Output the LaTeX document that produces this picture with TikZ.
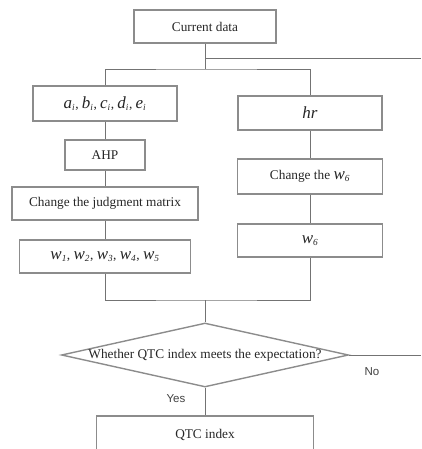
\documentclass[tikz,border=0pt]{standalone}
\usepackage{fontspec}
\setmainfont{Liberation Serif}
\setsansfont{Liberation Sans}
\usetikzlibrary{shapes.geometric}
\newcommand{\vr}[1]{{\fontsize{17}{20}\selectfont\itshape #1}}
\newcommand{\vs}[2]{\vr{#1}\textsubscript{\itshape #2}}
\begin{document}
\begin{tikzpicture}[x=1pt,y=-1pt,
  box/.style={draw=black!45,line width=1.4pt,inner sep=0pt,align=center,text=black!85,font=\fontsize{13.3}{16}\selectfont},
  decision/.style={diamond,draw=black!45,line width=1.4pt,inner sep=0pt,minimum width=287pt,minimum height=64pt},
  link/.style={draw=black!55,line width=0.8pt},
  tag/.style={font=\sffamily\fontsize{11.5}{14}\selectfont,text=black!75}]
	\useasboundingbox (0,0) rectangle (421,449);
	\clip (0,0) rectangle (421,449);
	\node[box,minimum width=142pt,minimum height=33pt] (cur) at (205,26.5) {Current data};
	\node[box,minimum width=144pt,minimum height=35pt] (abc) at (105,103.5) {\vs{a}{i}, \vs{b}{i}, \vs{c}{i}, \vs{d}{i}, \vs{e}{i}};
	\node[box,minimum width=144pt,minimum height=34pt] (hr) at (310,113) {\vr{hr}};
	\node[box,minimum width=80pt,minimum height=30pt] (ahp) at (105,155) {AHP};
	\node[box,minimum width=186pt,minimum height=33pt] (judge) at (105,203.5) {Change the judgment matrix};
	\node[box,minimum width=171pt,minimum height=33pt] (wfive) at (105,256.5) {\vs{w}{1}, \vs{w}{2}, \vs{w}{3}, \vs{w}{4}, \vs{w}{5}};
	\node[box,minimum width=145pt,minimum height=35pt] (chgw) at (310,176.5) {Change the \vs{w}{6}};
	\node[box,minimum width=145pt,minimum height=33pt] (wsix) at (310,240.5) {\vs{w}{6}};
	\node[decision] (dec) at (205,355) {};
	\node[text=black!85,font=\fontsize{13.3}{16}\selectfont,inner sep=0pt] (ask) at (dec.center) {Whether QTC index meets the expectation?};
	\node[box,minimum width=217pt,minimum height=37pt] (qtc) at (205,434.5) {QTC index};
	\coordinate (split) at (205,69);
	\coordinate (tap) at (205,58);
	\coordinate (exit) at (421,58);
	\coordinate (join) at (205,300);
	\coordinate (noend) at (421,355);
	\draw[link] (cur) -- (split);
	\draw[link] (tap) -- (exit);
	\draw[link] (abc.north) |- (split) -| (hr.north);
	\draw[link] (abc) -- (ahp);
	\draw[link] (ahp) -- (judge);
	\draw[link] (judge) -- (wfive);
	\draw[link] (hr) -- (chgw);
	\draw[link] (chgw) -- (wsix);
	\draw[link] (wfive.south) |- (join) -| (wsix.south);
	\draw[link] (join) -- (dec.north);
	\draw[link] (dec.east) -- (noend);
	\draw[link] (dec.south) -- (qtc);
	\node[tag] (no) at (372,372) {No};
	\node[tag] (yes) at (176,399) {Yes};
\end{tikzpicture}
\end{document}
